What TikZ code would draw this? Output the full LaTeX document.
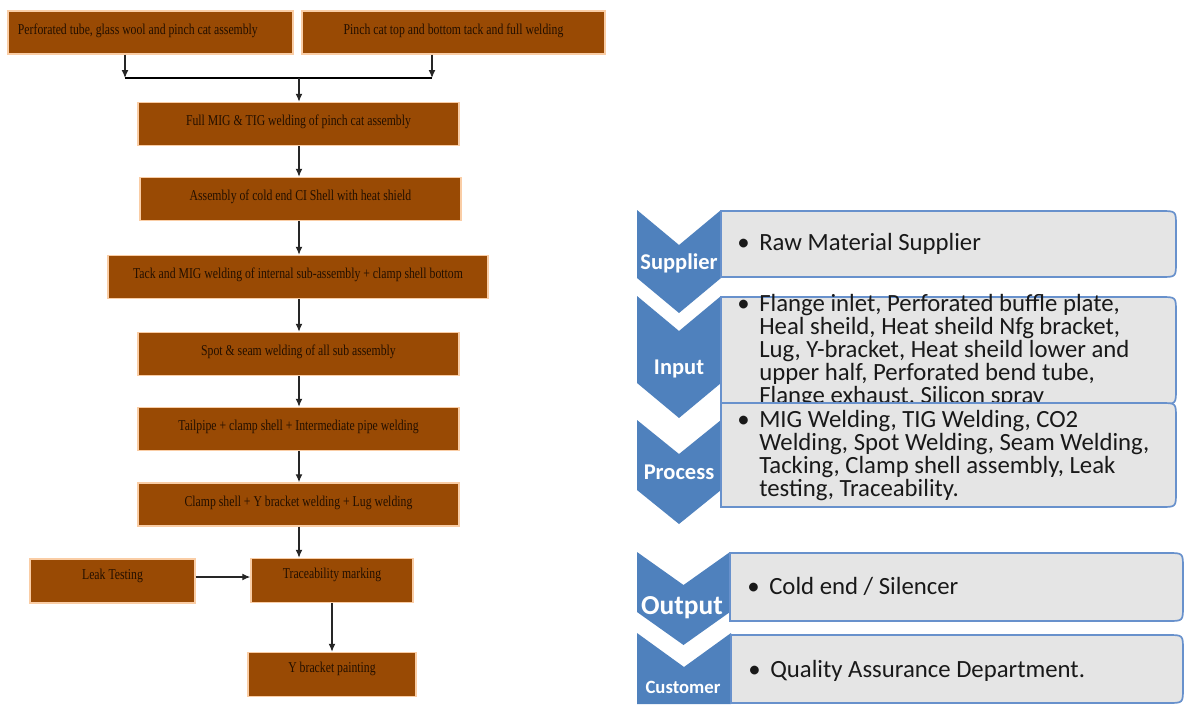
\documentclass[tikz,border=0pt]{standalone}
\usepackage{fontspec}
\usepackage{tikz}
\usetikzlibrary{arrows.meta, positioning}
\setmainfont{Liberation Serif}
\newfontfamily\boxfont[FakeStretch=0.78]{Liberation Serif}
\newfontfamily\smartfont{Carlito}

\definecolor{rust}{RGB}{153,74,4}
\definecolor{peach}{RGB}{250,205,165}
\definecolor{inkbrown}{RGB}{35,15,0}
\definecolor{chevblue}{RGB}{79,129,189}
\definecolor{panelgray}{RGB}{229,229,229}
\definecolor{panelline}{RGB}{104,145,204}

\newcommand{\tightlines}{\lineskiplimit=-20pt\relax}

\tikzstyle{stage}=[rectangle, draw=peach, fill=rust, line width=1pt, inner xsep=0pt, inner ysep=0pt,
  text height=0.575cm, text depth=0.5cm, text=inkbrown, font={\boxfont\fontsize{10.7}{12}\selectfont}]
\tikzstyle{lowtext}=[text height=0.5cm, text depth=0.6cm]
\tikzstyle{flow}=[->, draw=black!85, line width=0.8pt]
\tikzstyle{chevron}=[fill=chevblue]
\tikzstyle{panel}=[fill=panelgray, draw=panelline, line width=1.2pt]
\tikzstyle{tag}=[text=white, inner sep=0pt, anchor=base, font={\smartfont\bfseries\fontsize{16}{18}\selectfont}]
\tikzstyle{entry}=[anchor=base west, inner sep=0pt, text=black!90,
  font={\smartfont\fontsize{17.6}{16.4}\selectfont\tightlines}]

% x1, x2, top, side bottom, notch depth
\newcommand{\chevronpath}[5]{%
  \fill[chevron] (#1,#3) -- ({(#1+#2)/2},{#3+#5}) -- (#2,#3) -- (#2,#4)
    -- ({(#1+#2)/2},{#4+#5}) -- (#1,#4) -- cycle;}
% left, right, top, bottom; only the right corners are rounded
\newcommand{\panelbox}[4]{%
  \path[panel] (#1,#3) -- ({#2-15},#3) .. controls (#2,#3) .. (#2,{#3+15})
    -- (#2,{#4-15}) .. controls (#2,#4) .. ({#2-15},#4) -- (#1,#4) -- cycle;}
\newcommand{\itm}{\makebox[0.55cm][l]{\textbullet}}
\newcommand{\ind}{\hspace*{0.55cm}}

\begin{document}
\begin{tikzpicture}[x=0.025cm, y=-0.025cm, >={Latex[length=0.2cm, width=0.17cm]}]
  \useasboundingbox (0,0) rectangle (1184,704);

  % process flow
  \node[stage, minimum width=7.125cm] (b1) at (150.5,32.5)
    {\makebox[6.625cm][l]{Perforated tube, glass wool and pinch cat assembly}};
  \node[stage, minimum width=7.575cm] (b2) at (453.5,32.5) {Pinch cat top and bottom tack and full welding};
  \node[stage, minimum width=8.025cm] (b3) at (298.5,124) {Full MIG \& TIG welding of pinch cat assembly};
  \node[stage, minimum width=8.025cm] (b4) at (300.5,199) {Assembly of cold end CI Shell with heat shield};
  \node[stage, minimum width=9.5cm]   (b5) at (298,277)
    {Tack and MIG welding of internal sub-assembly + clamp shell bottom};
  \node[stage, minimum width=8.025cm] (b6) at (298.5,354) {Spot \& seam welding of all sub assembly};
  \node[stage, minimum width=8.025cm] (b7) at (298.5,429) {Tailpipe + clamp shell + Intermediate pipe welding};
  \node[stage, minimum width=8.025cm] (b8) at (298.5,504.5) {Clamp shell + Y bracket welding + Lug welding};
  \node[stage, lowtext, minimum width=4.125cm] (leak)  at (112.5,581) {Leak Testing\hspace{0.2cm}};
  \node[stage, lowtext, minimum width=4.05cm]  (trace) at (332,580.5) {Traceability marking};
  \node[stage, lowtext, minimum width=4.2cm]   (ybr)   at (332,674.5) {Y bracket painting};

  \coordinate (jl) at (125,78);
  \coordinate (jr) at (432,78);
  \coordinate (jm) at (299,78);
  \draw[flow] (b1.south -| jl) -- (jl);
  \draw[flow] (b2.south -| jr) -- (jr);
  \draw[line width=0.8pt] (jl) -- (jr);
  \draw[flow] (jm) -- (jm |- b3.north);
  \foreach \a/\b in {b3/b4, b4/b5, b5/b6, b6/b7, b7/b8}
    \draw[flow] (\a.south -| jm) -- (\b.north -| jm);
  \draw[flow] (b8.south -| jm) -- (trace.north -| jm);
  \draw[flow] ([yshift=0.1cm]leak.east) -- ([yshift=0.1cm]leak.east -| trace.west);
  \draw[flow] (trace.south) -- (ybr.north);

  % SIPOC chevrons
  \chevronpath{637}{721}{210}{278}{35}
  \chevronpath{637}{721}{296}{383}{35}
  \chevronpath{637}{721}{420}{490}{34}
  \chevronpath{637}{730}{552}{612}{33}
  \fill[chevron] (637,633) -- (684,667) -- (731,633) -- (731,704) -- (637,704) -- cycle;

  \node[tag] (supplier) at (679,269) {Supplier};
  \node[tag] (input)    at (679,374) {Input};
  \node[tag] (process)  at (679,479) {Process};
  \node[tag, font={\smartfont\bfseries\fontsize{19.5}{21}\selectfont}] (output)   at (682,614) {Output};
  \node[tag, font={\smartfont\bfseries\fontsize{13.3}{15}\selectfont}] (customer) at (683,693) {Customer};

  % SIPOC entries
  \panelbox{721}{1176}{211}{277}
  \node[entry] (rawmat) at (737,250) {\itm Raw Material Supplier};
  \panelbox{721}{1176}{297}{404}
  \node[entry] (inputs) at (737,311) {\parbox[t]{11cm}{\itm Flange inlet, Perforated buffle plate,\\
    \ind Heal sheild, Heat sheild Nfg bracket,\\
    \ind Lug, Y-bracket, Heat sheild lower and\\
    \ind upper half, Perforated bend tube,\\
    \ind Flange exhaust, Silicon spray}};
  \panelbox{721}{1176}{403}{507}
  \node[entry] (steps) at (737,427) {\parbox[t]{11cm}{\itm MIG Welding, TIG Welding, CO2\\
    \ind Welding, Spot Welding, Seam Welding,\\
    \ind Tacking, Clamp shell assembly, Leak\\
    \ind testing, Traceability.}};
  \panelbox{730}{1183}{553}{621}
  \node[entry] (product) at (747,594) {\itm Cold end / Silencer};
  \panelbox{731}{1183}{635}{703}
  \node[entry] (qa) at (748,677) {\itm Quality Assurance Department.};
\end{tikzpicture}
\end{document}
